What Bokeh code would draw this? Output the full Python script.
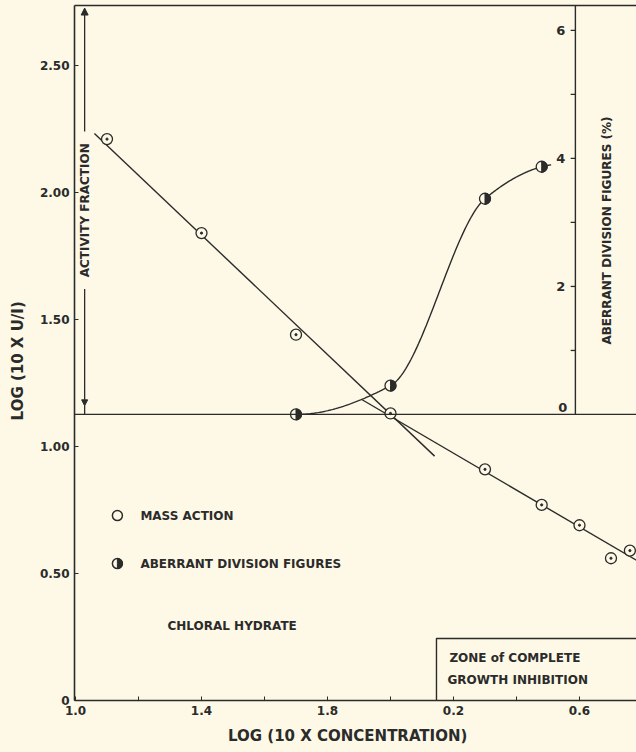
import numpy as np
from bokeh.plotting import figure
from bokeh.models import (Range1d, LinearAxis, FixedTicker, Span, Arrow, NormalHead)
from bokeh.core.properties import value
from bokeh.embed import file_html
from bokeh.resources import INLINE

# ---------------- data ----------------
# x: log(10 x concentration), bar notation 1.0 .. 1.8 = -1.0 .. -0.2
ma_x = [-0.9, -0.6, -0.3, 0.0, 0.3, 0.48, 0.6, 0.7, 0.76]
ma_y = [2.21, 1.84, 1.44, 1.13, 0.91, 0.77, 0.69, 0.56, 0.59]

ab_x = [-0.3, 0.0, 0.3, 0.48]
ab_y = [0.0, 0.45, 3.37, 3.87]          # aberrant division figures (%)
ab_tail_x = [0.51]
ab_tail_y = [3.90]

fit1_x = [-0.94, 0.14]
fit1_y = [2.232, 0.962]
fit2_x = [-0.09, 0.80]
fit2_y = [1.184, 0.538]

x_ticks = [-1.0, -0.8, -0.6, -0.4, -0.2, 0.0, 0.2, 0.4, 0.6]
x_labels = ["1.0", "", "1.4", "", "1.8", "", "0.2", "", "0.6"]
y_ticks = [0, 0.5, 1.0, 1.5, 2.0, 2.5]
y_labels = ["0", "0.50", "1.00", "1.50", "2.00", "2.50"]
r_ticks = [1, 2, 3, 4, 5, 6]
r_labels = ["2", "4", "6"]
r_label_vals = [2, 4, 6]

# ---------------- style ----------------
ink = "#2b2b2b"
bg = "#fdf9e6"
font = "DejaVu Sans"
base_y = 1.126           # zero line of the aberrant scale
ab_k = 0.252             # primary units per 1 %
y_end = 2.736
x_start, x_end = -1.0032, 0.781
right_axis_x = 0.587

p = figure(width=636, height=752, x_range=Range1d(x_start, x_end),
           y_range=Range1d(0, y_end), output_backend="svg",
           toolbar_location=None, min_border_left=74, min_border_right=0,
           min_border_top=5, min_border_bottom=52)
p.extra_y_ranges = {"ab": Range1d(-base_y / ab_k, (y_end - base_y) / ab_k)}
p.background_fill_color = bg
p.border_fill_color = bg
p.outline_line_color = None
p.xgrid.visible = False
p.ygrid.visible = False

p.xaxis.ticker = FixedTicker(ticks=x_ticks)
p.xaxis.major_label_overrides = {t: l for t, l in zip(x_ticks, x_labels)}
p.yaxis.ticker = FixedTicker(ticks=y_ticks)
p.yaxis.major_label_overrides = {t: l for t, l in zip(y_ticks, y_labels)}
p.xaxis.axis_label = "LOG  (10  X  CONCENTRATION)"
p.yaxis.axis_label = "LOG  (10  X  U/I)"
for ax in (p.xaxis[0], p.yaxis[0]):
    ax.axis_line_color = ink
    ax.axis_line_width = 1.6
    ax.major_tick_in = 4
    ax.major_tick_out = 0
    ax.minor_tick_in = 0
    ax.minor_tick_out = 0
    ax.major_tick_line_color = ink
    ax.major_label_text_font = font
    ax.major_label_text_font_style = "bold"
    ax.major_label_text_font_size = "12px"
    ax.major_label_text_color = ink
    ax.axis_label_text_font = font
    ax.axis_label_text_font_style = "bold"
    ax.axis_label_text_font_size = "15px"
    ax.axis_label_text_color = ink
p.xaxis.major_label_standoff = 5
p.xaxis.axis_label_standoff = 9
p.yaxis.major_label_standoff = 5
p.yaxis.axis_label_standoff = 10
p.yaxis.major_label_orientation = "horizontal"

top_ax = LinearAxis(ticker=FixedTicker(ticks=[]), major_tick_in=0, major_tick_out=0,
                    minor_tick_in=0, minor_tick_out=0, major_label_standoff=0,
                    axis_line_color=ink, axis_line_width=1.6,
                    major_label_text_font_size="0px")
p.add_layout(top_ax, "above")

# zero line of aberrant scale
p.add_layout(Span(location=base_y, dimension="width", line_color=ink, line_width=1.3))

# right (interior) aberrant axis
p.segment(x0=[right_axis_x], y0=[0], x1=[right_axis_x], y1=[20], y_range_name="ab",
          line_color=ink, line_width=1.4)
p.scatter(x=[right_axis_x - 0.007] * len(r_ticks), y=r_ticks, marker="dash", size=5,
          line_color=ink, line_width=1.3, y_range_name="ab")
p.text(x=[right_axis_x] * 3, y=r_label_vals, text=r_labels, y_range_name="ab",
       x_offset=-10, text_align="right", text_baseline="middle",
       text_font=value(font), text_font_style="bold", text_font_size="13px",
       text_color=ink)
p.text(x=[right_axis_x], y=[0], text=["0"], y_range_name="ab",
       x_offset=-8, y_offset=-2, text_align="right", text_baseline="bottom",
       text_font=value(font), text_font_style="bold", text_font_size="13px",
       text_color=ink)
p.text(x=[0.686], y=[1.85], text=["ABERRANT DIVISION FIGURES (%)"], angle=np.pi / 2,
       text_align="center", text_baseline="middle", text_font=value(font),
       text_font_size="12px", text_font_style="bold", text_color=ink)

# activity fraction arrow/axis
af_x = -0.971
p.add_layout(Arrow(end=NormalHead(size=7, fill_color=ink, line_color=ink),
                   x_start=af_x, y_start=2.24, x_end=af_x, y_end=y_end - 0.01,
                   line_color=ink, line_width=1.3))
p.add_layout(Arrow(end=NormalHead(size=6, fill_color=ink, line_color=ink),
                   x_start=af_x, y_start=1.62, x_end=af_x, y_end=1.16,
                   line_color=ink, line_width=1.3))
p.segment(x0=[af_x], y0=[1.16], x1=[af_x], y1=[base_y], line_color=ink, line_width=1.3)
p.text(x=[af_x], y=[1.93], text=["ACTIVITY FRACTION"], angle=np.pi / 2,
       text_align="center", text_baseline="middle", text_font=value(font),
       text_font_size="12px", text_font_style="bold", text_color=ink)

# fitted mass-action lines
p.line(fit1_x, fit1_y, line_color=ink, line_width=1.4)
p.line(fit2_x, fit2_y, line_color=ink, line_width=1.4)


# smooth hand-drawn curve through aberrant points (monotone cubic)
def pchip(xs, ys, n=300):
    xs = np.asarray(xs, float)
    ys = np.asarray(ys, float)
    h = np.diff(xs)
    d = np.diff(ys) / h
    m = np.zeros_like(ys)
    for k in range(1, len(xs) - 1):
        if d[k - 1] * d[k] > 0:
            w1 = 2 * h[k] + h[k - 1]
            w2 = h[k] + 2 * h[k - 1]
            m[k] = (w1 + w2) / (w1 / d[k - 1] + w2 / d[k])

    def end(h0, h1, d0, d1):
        mm = ((2 * h0 + h1) * d0 - h0 * d1) / (h0 + h1)
        if np.sign(mm) != np.sign(d0):
            return 0.0
        if np.sign(d0) != np.sign(d1) and abs(mm) > abs(3 * d0):
            return 3 * d0
        return mm
    m[0] = end(h[0], h[1], d[0], d[1])
    m[-1] = end(h[-1], h[-2], d[-1], d[-2])
    out_x, out_y = [], []
    for k in range(len(xs) - 1):
        t = np.linspace(0, 1, n // (len(xs) - 1))
        h00 = 2 * t**3 - 3 * t**2 + 1
        h10 = t**3 - 2 * t**2 + t
        h01 = -2 * t**3 + 3 * t**2
        h11 = t**3 - t**2
        out_x.extend(xs[k] + t * h[k])
        out_y.extend(h00 * ys[k] + h10 * h[k] * m[k] + h01 * ys[k + 1] + h11 * h[k] * m[k + 1])
    return out_x, out_y


cx, cy = pchip(ab_x + ab_tail_x, ab_y + ab_tail_y)
p.line(cx, cy, y_range_name="ab", line_color=ink, line_width=1.4)

# mass action points (circle with dot)
p.scatter(ma_x, ma_y, marker="circle", size=11, fill_color=bg, line_color=ink, line_width=1.3)
p.scatter(ma_x, ma_y, marker="circle", size=2.2, fill_color=ink, line_color=ink)

# aberrant points (half filled)
p.scatter(ab_x, ab_y, marker="circle", size=11, fill_color=bg, line_color=ink,
          line_width=1.3, y_range_name="ab")
p.wedge(ab_x, ab_y, radius=5.5, radius_units="screen", start_angle=-np.pi / 2,
        end_angle=np.pi / 2, fill_color=ink, line_color=ink, y_range_name="ab")

# key
p.scatter([-0.867], [0.728], marker="circle", size=10, fill_color=bg, line_color=ink,
          line_width=1.5)
p.scatter([-0.867], [0.539], marker="circle", size=10, fill_color=bg, line_color=ink,
          line_width=1.5)
p.wedge([-0.867], [0.539], radius=5, radius_units="screen", start_angle=-np.pi / 2,
        end_angle=np.pi / 2, fill_color=ink, line_color=ink)
key_style = dict(text_baseline="middle", text_align="left", text_font=value(font),
                 text_font_size="12px", text_font_style="bold", text_color=ink)
p.text(x=[-0.794], y=[0.728], text=["MASS ACTION"], **key_style)
p.text(x=[-0.794], y=[0.539], text=["ABERRANT DIVISION FIGURES"], **key_style)
p.text(x=[-0.708], y=[0.295], text=["CHLORAL HYDRATE"], **key_style)

# zone of complete growth inhibition
p.quad(left=[0.146], right=[1.5], bottom=[-0.5], top=[0.244], fill_color=None,
       line_color=ink, line_width=1.4)
p.text(x=[0.187], y=[0.169], text=["ZONE of COMPLETE"], **key_style)
p.text(x=[0.181], y=[0.079], text=["GROWTH INHIBITION"], **key_style)

open("out.html", "w").write(
    file_html(p, INLINE).replace("<body>", '<body style="background:%s">' % bg))
